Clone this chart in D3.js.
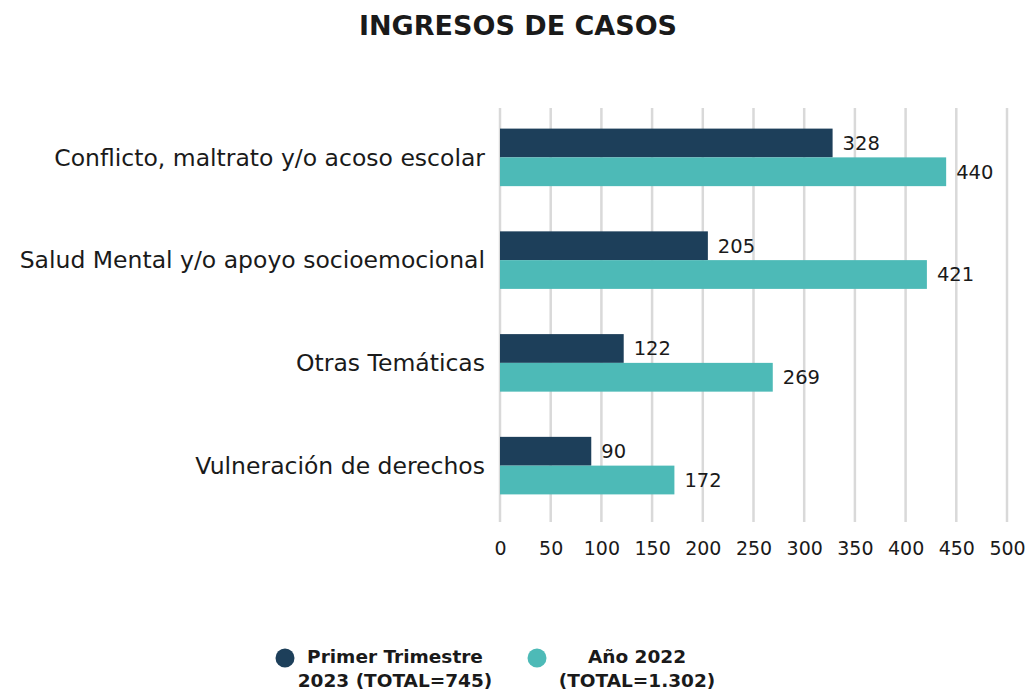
<!DOCTYPE html>
<html>
<head>
<meta charset="utf-8">
<script src="https://cdn.jsdelivr.net/npm/d3@7"></script>
<style>
  body { margin: 0; background: #fff; }
  text { font-family: "DejaVu Sans", sans-serif; fill: #1a1a1a; }
</style>
</head>
<body>
<svg id="chart"></svg>
<script>
const categories = [
    "Conflicto, maltrato y/o acoso escolar",
    "Salud Mental y/o apoyo socioemocional",
    "Otras Temáticas",
    "Vulneración de derechos"
];
const trimestre2023 = [328, 205, 122, 90];
const anio2022 = [440, 421, 269, 172];
const seriesNames = [["Primer Trimestre", "2023 (TOTAL=745)"], ["Año 2022", "(TOTAL=1.302)"]];
const xTicks = [0, 50, 100, 150, 200, 250, 300, 350, 400, 450, 500];

const width = 1027;
const height = 693;
const margin = {top: 106, right: 20, bottom: 175, left: 500};
const colors = ["#1d3f5a", "#4dbab7"];

const svg = d3.select("#chart")
    .attr("width", width)
    .attr("height", height)
    .attr("viewBox", [0, 0, width, height]);

const x = d3.scaleLinear()
    .domain([0, 500])
    .range([margin.left, 1007]);

const y = d3.scaleBand()
    .domain(categories)
    .range([margin.top, height - margin.bottom - 1])
    .paddingInner(0.44)
    .paddingOuter(0.22);

const ySeries = d3.scaleBand()
    .domain([0, 1])
    .range([0, y.bandwidth()]);

// title
svg.append("text")
    .attr("x", 518)
    .attr("y", 35)
    .attr("text-anchor", "middle")
    .style("font-weight", "bold")
    .style("font-size", "27px")
    .text("INGRESOS DE CASOS");

// grid
svg.append("g")
    .selectAll("line")
    .data(xTicks)
    .join("line")
    .attr("x1", d => x(d))
    .attr("x2", d => x(d))
    .attr("y1", 108)
    .attr("y2", 522)
    .attr("stroke", "#d9d9d9")
    .attr("stroke-width", 2.5);

// x axis labels
const xAxis = svg.append("g")
    .attr("transform", `translate(0, 548)`)
    .call(d3.axisBottom(x).tickValues(xTicks).tickSize(0).tickPadding(0));
xAxis.select(".domain").remove();
xAxis.selectAll("text")
    .attr("dy", "0.35em")
    .style("font-size", "19px")
    .style("font-family", "DejaVu Sans, sans-serif")
    .attr("fill", "#1a1a1a");

// y category labels
svg.append("g")
    .selectAll("text")
    .data(categories)
    .join("text")
    .attr("x", 485)
    .attr("y", d => y(d) + y.bandwidth() / 2)
    .attr("dy", "0.35em")
    .attr("text-anchor", "end")
    .style("font-size", "23.5px")
    .text(d => d);

// bars
const series = [trimestre2023, anio2022];
series.forEach((vals, s) => {
    const g = svg.append("g");
    g.selectAll("rect")
        .data(categories)
        .join("rect")
        .attr("x", x(0))
        .attr("y", (d, i) => y(d) + ySeries(s))
        .attr("width", (d, i) => x(vals[i]) - x(0))
        .attr("height", ySeries.bandwidth())
        .attr("fill", colors[s]);
    g.selectAll("text")
        .data(categories)
        .join("text")
        .attr("x", (d, i) => x(vals[i]) + 10)
        .attr("y", (d, i) => y(d) + ySeries(s) + ySeries.bandwidth() / 2)
        .attr("dy", "0.35em")
        .style("font-size", "19.5px")
        .text((d, i) => vals[i]);
});

// legend
const legendX = [285, 537];
const legend = svg.append("g");
seriesNames.forEach((lines, s) => {
    legend.append("circle")
        .attr("cx", legendX[s])
        .attr("cy", 658)
        .attr("r", 9.5)
        .attr("fill", colors[s]);
    legend.append("text")
        .attr("y", 657)
        .attr("text-anchor", "middle")
        .style("font-weight", "bold")
        .style("font-size", "18.5px")
        .selectAll("tspan")
        .data(lines)
        .join("tspan")
        .attr("x", legendX[s] + (s === 1 ? 100 : 110))
        .attr("dy", (d, i) => i === 0 ? "0.35em" : "1.27em")
        .text(d => d);
});
</script>
</body>
</html>
